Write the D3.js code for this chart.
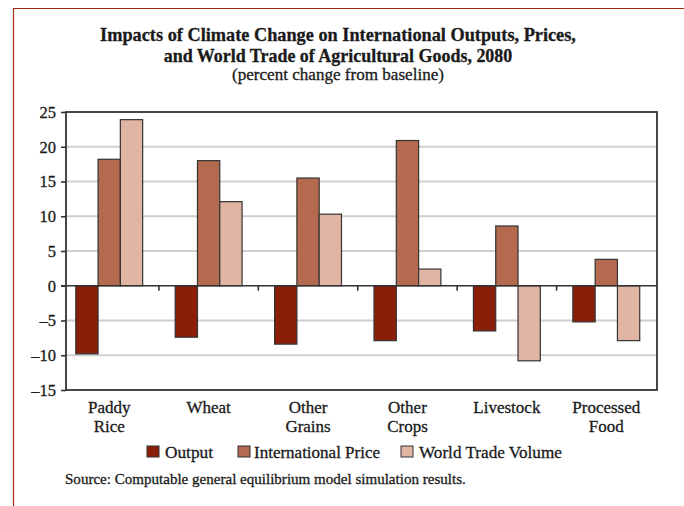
<!DOCTYPE html>
<html>
<head>
<meta charset="utf-8">
<script src="https://cdn.jsdelivr.net/npm/d3@7/dist/d3.min.js"></script>
<style>
  html, body { margin: 0; padding: 0; background: #fff; }
  svg { display: block; }
  text { font-family: "Liberation Serif", "Times New Roman", serif; fill: #1a1a1a; stroke: #1a1a1a; stroke-width: 0.3px; }
</style>
</head>
<body>
<svg id="chart" width="684" height="506"></svg>
<script>
const categories = [["Paddy", "Rice"], ["Wheat"], ["Other", "Grains"], ["Other", "Crops"], ["Livestock"], ["Processed", "Food"]];
const series = ["Output", "International Price", "World Trade Volume"];
const outputValues = [-9.8, -7.4, -8.4, -7.9, -6.5, -5.2];
const priceValues = [18.2, 18.0, 15.5, 20.9, 8.6, 3.8];
const tradeValues = [23.9, 12.1, 10.3, 2.4, -10.8, -7.9];
const yTicks = [25, 20, 15, 10, 5, 0, -5, -10, -15];
const colors = ["#8b1e08", "#b46a4e", "#e1b5a3"];
const titleLines = ["Impacts of Climate Change on International Outputs, Prices,", "and World Trade of Agricultural Goods, 2080"];
const subtitle = "(percent change from baseline)";
const source = "Source: Computable general equilibrium model simulation results.";

const catKeys = categories.map(c => c.join(" "));
const valuesBySeries = [outputValues, priceValues, tradeValues];

const svg = d3.select("#chart");

// fit a text element's font size so that it spans a target width
function fitWidth(sel, target) {
  const node = sel.node();
  const fs = parseFloat(sel.attr("font-size"));
  const w = node.getComputedTextLength();
  if (w > 0) sel.attr("font-size", (fs * target / w).toFixed(2));
  return sel;
}

// decorative page border
svg.append("line").attr("x1", 13).attr("x2", 684).attr("y1", 8.5).attr("y2", 8.5)
  .attr("stroke", "#9a2a12").attr("stroke-width", 1.2);
svg.append("line").attr("x1", 13.5).attr("x2", 13.5).attr("y1", 8).attr("y2", 506)
  .attr("stroke", "#9a2a12").attr("stroke-width", 1.2);

// titles
const tg = svg.append("g");
const titleWidths = [476, 349];
titleLines.forEach((t, i) => {
  const el = tg.append("text").attr("x", 338).attr("y", 40.5 + i * 21)
    .attr("text-anchor", "middle").attr("font-size", 17).attr("font-weight", "bold").text(t);
  fitWidth(el, titleWidths[i]);
});
fitWidth(tg.append("text").attr("x", 338).attr("y", 80).attr("text-anchor", "middle")
  .attr("font-size", 17).text(subtitle), 212);

const plot = { left: 66, right: 657, top: 112, bottom: 390 };

const y = d3.scaleLinear().domain([-15, 25]).range([plot.bottom, plot.top]);
const x = d3.scaleBand().domain(catKeys).range([59.5, 656]).paddingInner(0).paddingOuter(0);
const x1 = d3.scaleBand().domain(series).range([0, x.bandwidth()]).paddingInner(0).paddingOuter(0.73);

// gridlines
svg.append("g").selectAll("line")
  .data(yTicks.filter(v => v !== 25 && v !== -15 && v !== 0))
  .join("line")
  .attr("x1", plot.left).attr("x2", plot.right)
  .attr("y1", d => y(d)).attr("y2", d => y(d))
  .attr("stroke", "#cfcfcf").attr("stroke-width", 2);

// bars
const rows = catKeys.map((k, i) => series.map((s, j) => ({ cat: k, s, j, v: valuesBySeries[j][i] })));
svg.append("g").selectAll("g").data(rows).join("g")
  .attr("transform", (d, i) => `translate(${x(catKeys[i])},0)`)
  .selectAll("rect").data(d => d).join("rect")
  .attr("x", d => x1(d.s))
  .attr("width", x1.bandwidth())
  .attr("y", d => Math.min(y(0), y(d.v)))
  .attr("height", d => Math.abs(y(d.v) - y(0)))
  .attr("fill", d => colors[d.j])
  .attr("stroke", "#333").attr("stroke-width", 1.2);

// zero line
svg.append("line").attr("x1", plot.left - 5).attr("x2", plot.right)
  .attr("y1", y(0)).attr("y2", y(0)).attr("stroke", "#333").attr("stroke-width", 1.6);
// category separators on zero line
svg.append("g").selectAll("line").data(catKeys.slice(1)).join("line")
  .attr("x1", d => x(d)).attr("x2", d => x(d))
  .attr("y1", y(0)).attr("y2", y(0) + 5)
  .attr("stroke", "#333").attr("stroke-width", 1.6);

// frame
svg.append("rect").attr("x", plot.left).attr("y", plot.top)
  .attr("width", plot.right - plot.left).attr("height", plot.bottom - plot.top)
  .attr("fill", "none").attr("stroke", "#333").attr("stroke-width", 1.8);

// y axis
const yAxis = d3.axisLeft(y).tickValues(yTicks).tickSize(5).tickPadding(5)
  .tickFormat(d => d < 0 ? "\u2013" + Math.abs(d) : String(d));
const ya = svg.append("g").attr("transform", `translate(${plot.left},0)`).call(yAxis);
ya.attr("font-family", null).attr("font-size", null);
ya.select(".domain").remove();
ya.selectAll(".tick line").attr("stroke", "#333").attr("stroke-width", 1.6);
ya.selectAll(".tick text").attr("font-size", 16.5).attr("fill", "#1a1a1a");

// x labels
const xl = svg.append("g");
categories.forEach((c, i) => {
  const cx = x(catKeys[i]) + x.bandwidth() / 2;
  c.forEach((line, k) => {
    xl.append("text").attr("x", cx).attr("y", 413 + k * 18.5).attr("text-anchor", "middle")
      .attr("font-size", 17).text(line);
  });
});

// legend
const legendItems = [
  { label: series[0], sx: 147, tx: 165, w: 48 },
  { label: series[1], sx: 238, tx: 254, w: 126 },
  { label: series[2], sx: 401, tx: 419, w: 143 }
];
const lg = svg.append("g");
legendItems.forEach((it, i) => {
  lg.append("rect").attr("x", it.sx).attr("y", 446).attr("width", 12).attr("height", 11)
    .attr("fill", colors[i]).attr("stroke", "#333").attr("stroke-width", 1);
  fitWidth(lg.append("text").attr("x", it.tx).attr("y", 458).attr("font-size", 16.5).text(it.label), it.w);
});

// source
fitWidth(svg.append("text").attr("x", 65).attr("y", 484).attr("font-size", 14).text(source), 401);
</script>
</body>
</html>
